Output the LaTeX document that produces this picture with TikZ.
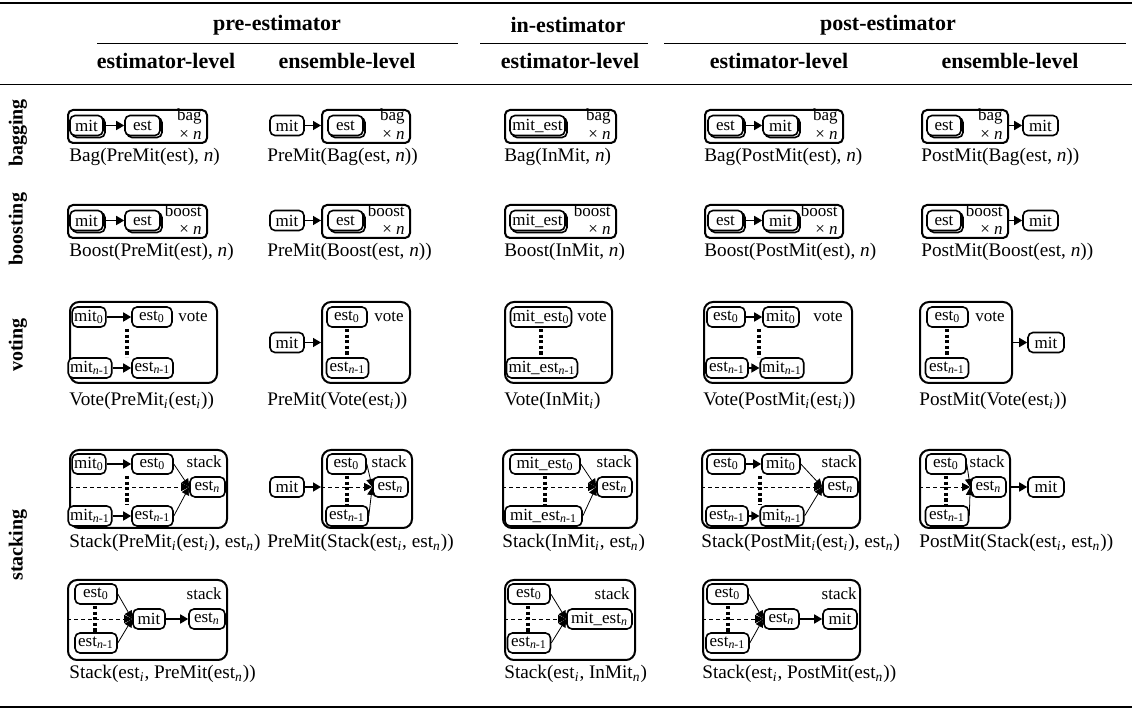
\documentclass[tikz,border=0pt]{standalone}
\usepackage{fontspec}
\setmainfont{Liberation Serif}
\usetikzlibrary{arrows.meta,fit,calc}
\newcommand{\isub}{\textsubscript{\textit{i}}}
\newcommand{\nsub}{\textsubscript{\textit{n}}}
\newcommand{\nmsub}{\textsubscript{\textit{n}-1}}
\newcommand{\zsub}{\textsubscript{0}}
\newcommand{\capfont}{\fontsize{9.6}{11}\selectfont}
\newcommand{\ndfont}{\fontsize{8.5}{9}\selectfont}
\newcommand{\hdfont}{\fontsize{11}{13}\selectfont\bfseries}
\newcommand{\rlfont}{\fontsize{10}{12}\selectfont\bfseries}
\tikzset{
 nd/.style={draw, line width=0.8pt, rounded corners=2.5pt, inner xsep=1pt, inner ysep=0pt, minimum height=10pt, fill=white, font=\ndfont},
 mw/.style={minimum width=#1*0.5pt},
 shd/.style={preaction={draw, line width=0.8pt, transform canvas={xshift=1pt,yshift=-1pt}}},
 bx/.style={draw, line width=1pt, rounded corners=2.5pt, inner sep=0pt},
 vbx/.style={draw, line width=1pt, rounded corners=4.5pt, inner sep=0pt},
 tag/.style={font=\ndfont, inner sep=0pt, anchor=east},
 capt/.style={font=\capfont, inner sep=0pt, anchor=west},
 hd/.style={font=\hdfont, inner sep=0pt},
 rl/.style={font=\rlfont, inner sep=0pt, rotate=90},
 thk/.style={line width=0.8pt, -{Triangle[length=4pt,width=4.5pt]}},
 thn/.style={line width=0.4pt, -{Triangle[length=4pt,width=4pt]}},
 dsh/.style={line width=0.4pt, dash pattern=on 2pt off 1.5pt, -{Triangle[length=4pt,width=4pt]}},
 vdots/.style={line width=1.6pt, dash pattern=on 1.6pt off 1.2pt},
}
\begin{document}
\begin{tikzpicture}[x=0.5pt,y=-0.5pt]
\useasboundingbox (0,0) rectangle (1132,711);
% rules
\draw[line width=0.9pt] (0,3) -- (1132,3);
\draw[line width=0.5pt] (0,85) -- (1132,85);
\draw[line width=0.9pt] (0,707) -- (1132,707);
\draw[line width=0.5pt] (97,44) -- (458,44);
\draw[line width=0.5pt] (480,44) -- (648,44);
\draw[line width=0.5pt] (664,44) -- (1126,44);
% headers
\node[hd] (hpre) at (277,25) {pre-estimator};
\node[hd] (hin) at (568,25) {in-estimator};
\node[hd] (hpost) at (888,25) {post-estimator};
\node[hd] (h1) at (166,61) {estimator-level};
\node[hd] (h2) at (347,61) {ensemble-level};
\node[hd] (h3) at (570,61) {estimator-level};
\node[hd] (h4) at (779,61) {estimator-level};
\node[hd] (h5) at (1010,61) {ensemble-level};
% row labels
\node[rl] (lbag) at (18,133) {bagging};
\node[rl] (lboost) at (18,229) {boosting};
\node[rl] (lvote) at (18,345) {voting};
\node[rl] (lstack) at (18,545) {stacking};

% ================= BAGGING =================
\node[bx, fit={(68,110) (207,143)}] (bg1) {};
\node[nd, shd, mw=33] (bg1m) at (86.5,125.5) {mit};
\node[nd, shd, mw=35] (bg1e) at (142.5,125.5) {est};
\draw[thk] (bg1m) -- (bg1e);
\node[tag] (bg1t) at (202,116) {bag};
\node[tag] (bg1n) at (202,135) {× \textit{n}};
\node[capt] (bg1c) at (69,157) {Bag(PreMit(est), \textit{n})};

\node[nd, mw=34] (bg2m) at (287,125.5) {mit};
\node[bx, fit={(322,110) (410,143)}] (bg2) {};
\node[nd, shd, mw=35] (bg2e) at (345.5,125.5) {est};
\draw[thk] (bg2m.east) -- (bg2m.east -| bg2.west);
\node[tag] (bg2t) at (405,116) {bag};
\node[tag] (bg2n) at (405,135) {× \textit{n}};
\node[capt] (bg2c) at (267,157) {PreMit(Bag(est, \textit{n}))};

\node[bx, fit={(505,110) (616,143)}] (bg3) {};
\node[nd, shd, mw=55] (bg3m) at (537.5,125.5) {mit\_est};
\node[tag] (bg3t) at (611,116) {bag};
\node[tag] (bg3n) at (611,135) {× \textit{n}};
\node[capt] (bg3c) at (504,157) {Bag(InMit, \textit{n})};

\node[bx, fit={(705,110) (843,143)}] (bg4) {};
\node[nd, shd, mw=35] (bg4e) at (725.5,125.5) {est};
\node[nd, shd, mw=35] (bg4m) at (780.5,125.5) {mit};
\draw[thk] (bg4e) -- (bg4m);
\node[tag] (bg4t) at (838,116) {bag};
\node[tag] (bg4n) at (838,135) {× \textit{n}};
\node[capt] (bg4c) at (704,157) {Bag(PostMit(est), \textit{n})};

\node[bx, fit={(922,110) (1008,143)}] (bg5) {};
\node[nd, shd, mw=34] (bg5e) at (944,125.5) {est};
\node[tag] (bg5t) at (1003,116) {bag};
\node[tag] (bg5n) at (1003,135) {× \textit{n}};
\node[nd, mw=35] (bg5m) at (1040.5,125.5) {mit};
\draw[thk] (bg5m.west -| bg5.east) -- (bg5m.west);
\node[capt] (bg5c) at (921,157) {PostMit(Bag(est, \textit{n}))};

% ================= BOOSTING =================
\node[bx, fit={(68,205) (207,238)}] (bo1) {};
\node[nd, shd, mw=33] (bo1m) at (86.5,220.5) {mit};
\node[nd, shd, mw=35] (bo1e) at (142.5,220.5) {est};
\draw[thk] (bo1m) -- (bo1e);
\node[tag] (bo1t) at (202,211) {boost};
\node[tag] (bo1n) at (202,230) {× \textit{n}};
\node[capt] (bo1c) at (69,252) {Boost(PreMit(est), \textit{n})};

\node[nd, mw=34] (bo2m) at (287,220.5) {mit};
\node[bx, fit={(322,205) (410,238)}] (bo2) {};
\node[nd, shd, mw=35] (bo2e) at (345.5,220.5) {est};
\draw[thk] (bo2m.east) -- (bo2m.east -| bo2.west);
\node[tag] (bo2t) at (405,211) {boost};
\node[tag] (bo2n) at (405,230) {× \textit{n}};
\node[capt] (bo2c) at (267,252) {PreMit(Boost(est, \textit{n}))};

\node[bx, fit={(505,205) (616,238)}] (bo3) {};
\node[nd, shd, mw=55] (bo3m) at (537.5,220.5) {mit\_est};
\node[tag] (bo3t) at (611,211) {boost};
\node[tag] (bo3n) at (611,230) {× \textit{n}};
\node[capt] (bo3c) at (504,252) {Boost(InMit, \textit{n})};

\node[bx, fit={(705,205) (843,238)}] (bo4) {};
\node[nd, shd, mw=35] (bo4e) at (725.5,220.5) {est};
\node[nd, shd, mw=35] (bo4m) at (780.5,220.5) {mit};
\draw[thk] (bo4e) -- (bo4m);
\node[tag] (bo4t) at (838,211) {boost};
\node[tag] (bo4n) at (838,230) {× \textit{n}};
\node[capt] (bo4c) at (704,252) {Boost(PostMit(est), \textit{n})};

\node[bx, fit={(922,205) (1008,238)}] (bo5) {};
\node[nd, shd, mw=34] (bo5e) at (944,220.5) {est};
\node[tag] (bo5t) at (1003,211) {boost};
\node[tag] (bo5n) at (1003,230) {× \textit{n}};
\node[nd, mw=35] (bo5m) at (1040.5,220.5) {mit};
\draw[thk] (bo5m.west -| bo5.east) -- (bo5m.west);
\node[capt] (bo5c) at (921,252) {PostMit(Boost(est, \textit{n}))};

% ================= VOTING =================
\node[vbx, fit={(70,302) (217,383)}] (vt1) {};
\node[nd, mw=28] (vt1m0) at (89,317) {mit\zsub};
\node[nd, mw=40] (vt1e0) at (152,317) {est\zsub};
\node[nd, mw=33] (vt1m1) at (90,368) {mit\nmsub};
\node[nd, mw=41] (vt1e1) at (152.5,368) {est\nmsub};
\draw[thk] (vt1m0) -- (vt1e0);
\draw[thk] (vt1m1) -- (vt1e1);
\draw[vdots] (127,329) -- (127,357);
\node[tag] (vt1t) at (208,317) {vote};
\node[capt] (vt1c) at (69,401) {Vote(PreMit\isub(est\isub))};

\node[nd, mw=34] (vt2m) at (287,342.5) {mit};
\node[vbx, fit={(322,302) (410,383)}] (vt2) {};
\node[nd, mw=40] (vt2e0) at (347,317) {est\zsub};
\node[nd, mw=42] (vt2e1) at (347.5,368) {est\nmsub};
\draw[vdots] (347,329) -- (347,357);
\node[tag] (vt2t) at (404,317) {vote};
\draw[thk] (vt2m.east) -- (vt2m.east -| vt2.west);
\node[capt] (vt2c) at (267,401) {PreMit(Vote(est\isub))};

\node[vbx, fit={(505,302) (612,383)}] (vt3) {};
\node[nd, mw=60] (vt3m0) at (541,317) {mit\_est\zsub};
\node[nd, mw=68] (vt3m1) at (542,368) {mit\_est\nmsub};
\draw[vdots] (541,329) -- (541,357);
\node[tag] (vt3t) at (607,317) {vote};
\node[capt] (vt3c) at (504,401) {Vote(InMit\isub)};

\node[vbx, fit={(704,302) (852,383)}] (vt4) {};
\node[nd, mw=38] (vt4e0) at (726,317) {est\zsub};
\node[nd, mw=36] (vt4m0) at (781,317) {mit\zsub};
\node[nd, mw=42] (vt4e1) at (727,368) {est\nmsub};
\node[nd, mw=40] (vt4m1) at (782,368) {mit\nmsub};
\draw[thk] (vt4e0) -- (vt4m0);
\draw[thk] (vt4e1) -- (vt4m1);
\draw[vdots] (759,329) -- (759,357);
\node[tag] (vt4t) at (843,317) {vote};
\node[capt] (vt4c) at (703,401) {Vote(PostMit\isub(est\isub))};

\node[vbx, fit={(920,302) (1012,383)}] (vt5) {};
\node[nd, mw=41] (vt5e0) at (947.5,317) {est\zsub};
\node[nd, mw=43] (vt5e1) at (947,368) {est\nmsub};
\draw[vdots] (947,329) -- (947,357);
\node[tag] (vt5t) at (1005,317) {vote};
\node[nd, mw=36] (vt5m) at (1046,342.5) {mit};
\draw[thk] (vt5m.west -| vt5.east) -- (vt5m.west);
\node[capt] (vt5c) at (919,401) {PostMit(Vote(est\isub))};

% ================= STACKING 1 =================
\node[vbx, fit={(70,450) (227,528)}] (sa1) {};
\node[nd, mw=30] (sa1m0) at (89,464) {mit\zsub};
\node[nd, mw=41] (sa1e0) at (152.5,464) {est\zsub};
\node[nd, mw=33] (sa1m1) at (90,516) {mit\nmsub};
\node[nd, mw=41] (sa1e1) at (152.5,516) {est\nmsub};
\node[nd, mw=35] (sa1en) at (207.5,487) {est\nsub};
\draw[thk] (sa1m0) -- (sa1e0);
\draw[thk] (sa1m1) -- (sa1e1);
\draw[vdots] (127,476) -- (127,505);
\draw[dsh] (sa1en.west -| sa1.west) -- (sa1en.west);
\draw[thn] (sa1e0.east) -- (sa1en.west);
\draw[thn] (sa1e1.east) -- (sa1en.west);
\node[tag] (sa1t) at (222,462) {stack};
\node[capt] (sa1c) at (69,543) {Stack(PreMit\isub(est\isub), est\nsub)};

\node[nd, mw=34] (sa2m) at (287,487) {mit};
\node[vbx, fit={(322,450) (412,528)}] (sa2) {};
\node[nd, mw=39] (sa2e0) at (346.5,464) {est\zsub};
\node[nd, mw=42] (sa2e1) at (347,516) {est\nmsub};
\node[nd, mw=35] (sa2en) at (390.5,487) {est\nsub};
\draw[vdots] (347,476) -- (347,505);
\draw[dsh] (sa2en.west -| sa2.west) -- (sa2en.west);
\draw[thn] (sa2e0.east) -- (sa2en.west);
\draw[thn] (sa2e1.east) -- (sa2en.west);
\node[tag] (sa2t) at (407,462) {stack};
\draw[thk] (sa2m.east) -- (sa2m.east -| sa2.west);
\node[capt] (sa2c) at (267,543) {PreMit(Stack(est\isub, est\nsub))};

\node[vbx, fit={(503,450) (637,528)}] (sa3) {};
\node[nd, mw=70] (sa3m0) at (545,464) {mit\_est\zsub};
\node[nd, mw=77] (sa3m1) at (543.5,516) {mit\_est\nmsub};
\node[nd, mw=35] (sa3en) at (614.5,487) {est\nsub};
\draw[vdots] (545,476) -- (545,505);
\draw[dsh] (sa3en.west -| sa3.west) -- (sa3en.west);
\draw[thn] (sa3m0.east) -- (sa3en.west);
\draw[thn] (sa3m1.east) -- (sa3en.west);
\node[tag] (sa3t) at (632,462) {stack};
\node[capt] (sa3c) at (502,543) {Stack(InMit\isub, est\nsub)};

\node[vbx, fit={(702,450) (860,528)}] (sa4) {};
\node[nd, mw=38] (sa4e0) at (726,464) {est\zsub};
\node[nd, mw=38] (sa4m0) at (781,464) {mit\zsub};
\node[nd, mw=42] (sa4e1) at (727,516) {est\nmsub};
\node[nd, mw=40] (sa4m1) at (782,516) {mit\nmsub};
\node[nd, mw=35] (sa4en) at (840.5,487) {est\nsub};
\draw[thk] (sa4e0) -- (sa4m0);
\draw[thk] (sa4e1) -- (sa4m1);
\draw[vdots] (760,476) -- (760,505);
\draw[dsh] (sa4en.west -| sa4.west) -- (sa4en.west);
\draw[thn] (sa4m0.east) -- (sa4en.west);
\draw[thn] (sa4m1.east) -- (sa4en.west);
\node[tag] (sa4t) at (857,462) {stack};
\node[capt] (sa4c) at (701,543) {Stack(PostMit\isub(est\isub), est\nsub)};

\node[vbx, fit={(920,450) (1010,528)}] (sa5) {};
\node[nd, mw=40] (sa5e0) at (946,464) {est\zsub};
\node[nd, mw=43] (sa5e1) at (947,516) {est\nmsub};
\node[nd, mw=35] (sa5en) at (988.5,487) {est\nsub};
\draw[vdots] (946,476) -- (946,505);
\draw[dsh] (sa5en.west -| sa5.west) -- (sa5en.west);
\draw[thn] (sa5e0.east) -- (sa5en.west);
\draw[thn] (sa5e1.east) -- (sa5en.west);
\node[tag] (sa5t) at (1005,462) {stack};
\node[nd, mw=36] (sa5m) at (1046,487) {mit};
\draw[thk] (sa5m.west -| sa5.east) -- (sa5m.west);
\node[capt] (sa5c) at (919,543) {PostMit(Stack(est\isub, est\nsub))};

% ================= STACKING 2 =================
\node[vbx, fit={(68,580) (227,660)}] (sb1) {};
\node[nd, mw=42] (sb1e0) at (96,594) {est\zsub};
\node[nd, mw=42] (sb1e1) at (96,643) {est\nmsub};
\node[nd, mw=32] (sb1m) at (149,619) {mit};
\node[nd, mw=36] (sb1en) at (207,619) {est\nsub};
\draw[vdots] (95,606) -- (95,632);
\draw[dsh] (sb1m.west -| sb1.west) -- (sb1m.west);
\draw[thn] (sb1e0.east) -- (sb1m.west);
\draw[thn] (sb1e1.east) -- (sb1m.west);
\draw[thk] (sb1m) -- (sb1en);
\node[tag] (sb1t) at (222,594) {stack};
\node[capt] (sb1c) at (69,674) {Stack(est\isub, PreMit(est\nsub))};

\node[vbx, fit={(505,580) (635,660)}] (sb3) {};
\node[nd, mw=42] (sb3e0) at (529,594) {est\zsub};
\node[nd, mw=43] (sb3e1) at (529,643) {est\nmsub};
\node[nd, mw=65] (sb3m) at (599.5,619) {mit\_est\nsub};
\draw[vdots] (528,606) -- (528,632);
\draw[dsh] (sb3m.west -| sb3.west) -- (sb3m.west);
\draw[thn] (sb3e0.east) -- (sb3m.west);
\draw[thn] (sb3e1.east) -- (sb3m.west);
\node[tag] (sb3t) at (630,594) {stack};
\node[capt] (sb3c) at (504,674) {Stack(est\isub, InMit\nsub)};

\node[vbx, fit={(703,580) (860,660)}] (sb4) {};
\node[nd, mw=41] (sb4e0) at (727.5,594) {est\zsub};
\node[nd, mw=43] (sb4e1) at (727.5,643) {est\nmsub};
\node[nd, mw=35] (sb4en) at (781.5,619) {est\nsub};
\node[nd, mw=34] (sb4m) at (840,619) {mit};
\draw[vdots] (728,606) -- (728,632);
\draw[dsh] (sb4en.west -| sb4.west) -- (sb4en.west);
\draw[thn] (sb4e0.east) -- (sb4en.west);
\draw[thn] (sb4e1.east) -- (sb4en.west);
\draw[thk] (sb4en) -- (sb4m);
\node[tag] (sb4t) at (857,594) {stack};
\node[capt] (sb4c) at (702,674) {Stack(est\isub, PostMit(est\nsub))};
\end{tikzpicture}
\end{document}
